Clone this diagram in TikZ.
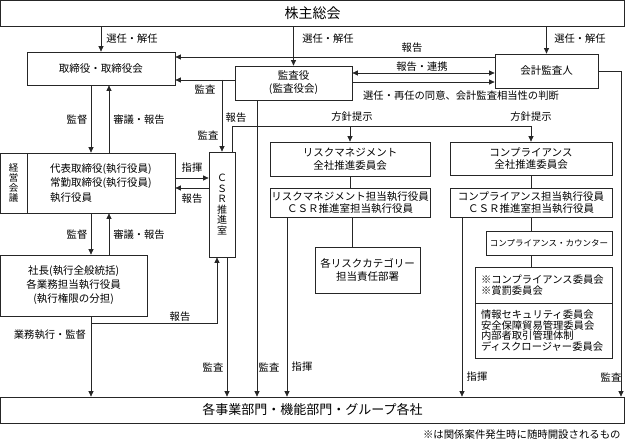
\documentclass[tikz,border=0pt]{standalone}
\usepackage{fontspec}
\setmainfont{Noto Sans CJK JP}
\usetikzlibrary{arrows.meta}
\definecolor{ln}{gray}{0.15}
\begin{document}
\begin{tikzpicture}[x=1pt,y=-1pt,line width=0.75pt,
  every node/.style={inner sep=0pt,text=black},
  box/.style={draw=ln,fill=white,align=center,font=\fontsize{10.5}{13}\selectfont},
  lab/.style={font=\fontsize{10.3}{12}\selectfont},
  arr/.style={draw=ln,-{Triangle[length=5.5pt,width=5pt]}},
  ln/.style={draw=ln}]
\useasboundingbox (0,0) rectangle (625,446);
% boxes
\node[box,minimum width=624pt,minimum height=26pt,font=\fontsize{14}{16}\selectfont] (top) at (312.5,13.5) {株主総会};
\node[box,minimum width=148pt,minimum height=33pt] (tb) at (101,68.5) {取締役・取締役会};
\node[box,minimum width=117pt,minimum height=34pt] (kansa) at (293.5,83) {監査役\\(監査役会)};
\node[box,minimum width=103pt,minimum height=34pt] (kaikei) at (546.5,71) {会計監査人};
\node[box,minimum width=26.5pt,minimum height=60pt,font=\fontsize{9.5}{10.2}\selectfont] (keiei) at (13.75,183) {経\\営\\会\\議};
\node[box,minimum width=148pt,minimum height=60pt,align=left,font=\fontsize{10.5}{14.5}\selectfont] (daihyo) at (101,183) {代表取締役(執行役員)\\常勤取締役(執行役員)\\執行役員};
\node[box,minimum width=26pt,minimum height=105pt,font=\fontsize{10}{10.6}\selectfont] (csr) at (222,204.5) {Ｃ\\Ｓ\\Ｒ\\推\\進\\室};
\node[box,minimum width=146.5pt,minimum height=61pt,font=\fontsize{10.5}{14}\selectfont] (shacho) at (73.75,285.5) {社長(執行全般統括)\\各業務担当執行役員\\(執行権限の分担)};
\node[box,minimum width=624pt,minimum height=26pt,font=\fontsize{13}{15}\selectfont] (bottom) at (312.5,410) {各事業部門・機能部門・グループ各社};
% risk column
\node[box,minimum width=160pt,minimum height=34pt,font=\fontsize{10.5}{12.5}\selectfont] (r1) at (350,159) {リスクマネジメント\\全社推進委員会};
\node[box,minimum width=160pt,minimum height=29pt,font=\fontsize{10.5}{12.5}\selectfont] (r2) at (350,202.5) {リスクマネジメント担当執行役員\\ＣＳＲ推進室担当執行役員};
\node[box,minimum width=105pt,minimum height=46pt,font=\fontsize{10.5}{13.5}\selectfont] (r3) at (367.5,270) {各リスクカテゴリー\\担当責任部署};
% compliance column
\node[box,minimum width=162pt,minimum height=33pt,font=\fontsize{10.5}{12.5}\selectfont] (c1) at (531,158.5) {コンプライアンス\\全社推進委員会};
\node[box,minimum width=162pt,minimum height=29pt,font=\fontsize{10.5}{12.5}\selectfont] (c2) at (531,202.5) {コンプライアンス担当執行役員\\ＣＳＲ推進室担当執行役員};
\node[box,minimum width=126pt,minimum height=24pt,font=\fontsize{8.5}{10}\selectfont] (c3) at (549,243) {コンプライアンス・カウンター};
\node[box,minimum width=137pt,minimum height=36pt,align=left,font=\fontsize{10.3}{11}\selectfont,text width=125pt] (c4a) at (543.5,285) {※コンプライアンス委員会\\※賞罰委員会};
\node[box,minimum width=137pt,minimum height=55pt,align=left,font=\fontsize{10.3}{10.6}\selectfont,text width=125pt] (c4b) at (543.5,330.5) {情報セキュリティ委員会\\安全保障貿易管理委員会\\内部者取引管理体制\\ディスクロージャー委員会};
% connectors from top
\draw[arr] (top.south -| tb.north) -- (tb.north);
\draw[arr] (top.south -| kansa.north) -- (kansa.north);
\draw[arr] (top.south -| kaikei.north) -- (kaikei.north);
\node[lab] at (132,39) {選任・解任};
\node[lab] at (328,39) {選任・解任};
\node[lab] at (580,39) {選任・解任};
% kaikei -> tb report
\draw[arr] (kaikei.west |- 0,57) -- (tb.east |- 0,57);
\node[lab] at (412,48) {報告};
% kansa -> tb audit
\draw[arr] (kansa.west |- 0,80) -- (tb.east |- 0,80);
\node[lab] at (205,89) {監査};
% kansa <-> kaikei
\draw[arr,{Triangle[length=5.5pt,width=5pt]}-{Triangle[length=5.5pt,width=5pt]}] (kansa.east |- 0,73) -- (kaikei.west |- 0,73);
\node[lab] at (422,67) {報告・連携};
\draw[arr] (kansa.east |- 0,82) -- (kaikei.west |- 0,82);
\node[lab] at (461,96) {選任・再任の同意、会計監査相当性の判断};
% kaikei -> bottom audit
\draw[arr] (kaikei.east) -- (621,71) -- (bottom.north -| 621,0);
\node[lab] at (611,377) {監査};
% audit into CSR
\draw[arr] (csr.north |- 0,80) -- (csr.north);
\node[lab] at (208,135) {監査};
% CSR policy line
\draw[ln] (csr.north -| 232,0) -- (232,126) -- (c1.north |- 0,126);
\draw[arr] (r1.north |- 0,126) -- (r1.north);
\draw[arr] (c1.north |- 0,126) -- (c1.north);
\node[lab] at (236,118) {報告};
\node[lab] at (352,117) {方針提示};
\node[lab] at (531,117) {方針提示};
% kansa -> bottom
\draw[arr] (kansa.south -| 257,0) -- (bottom.north -| 257,0);
\node[lab] at (269,367) {監査};
% tb <-> daihyo
\draw[arr] (tb.south -| 91,0) -- (daihyo.north -| 91,0);
\draw[arr] (daihyo.north -| 109,0) -- (tb.south -| 109,0);
\node[lab] at (77,120) {監督};
\node[lab] at (139,120) {審議・報告};
% daihyo <-> shacho
\draw[arr] (daihyo.south -| 91,0) -- (shacho.north -| 91,0);
\draw[arr] (shacho.north -| 109,0) -- (daihyo.south -| 109,0);
\node[lab] at (77,235) {監督};
\node[lab] at (139,235) {審議・報告};
% daihyo <-> csr
\draw[arr] (daihyo.east |- 0,178) -- (csr.west |- 0,178);
\node[lab] at (192,168) {指揮};
\draw[arr] (csr.west |- 0,188) -- (daihyo.east |- 0,188);
\node[lab] at (192,199) {報告};
% shacho -> bottom
\draw[arr] (shacho.south -| 91,0) -- (bottom.north -| 91,0);
\node[lab] at (50,335) {業務執行・監督};
\coordinate (rp) at (91,323);
\draw[arr] (rp) -- (217,323) -- (csr.south -| 217,0);
\node[lab] at (180,317) {報告};
% csr -> bottom
\draw[arr] (csr.south -| 227,0) -- (bottom.north -| 227,0);
\node[lab] at (213,367) {監査};
% risk column connectors
\draw[ln] (r1.south) -- (r2.north);
\draw[ln] (r2.south -| 352,0) -- (r3.north -| 352,0);
\draw[arr] (r2.south -| 287,0) -- (bottom.north -| 287,0);
\node[lab] at (302,367) {指揮};
% compliance column connectors
\draw[ln] (c1.south) -- (c2.north);
\draw[ln] (c2.south) -- (c3.north -| c2.south);
\draw[ln] (c3.south -| c2.south) -- (c4a.north -| c2.south);
\draw[arr] (c2.south -| 462,0) -- (bottom.north -| 462,0);
\node[lab] at (477,377) {指揮};
% footnote
\node[font=\fontsize{10.4}{12}\selectfont,anchor=east] (fn) at (621,435) {※は関係案件発生時に随時開設されるもの};
\end{tikzpicture}
\end{document}
